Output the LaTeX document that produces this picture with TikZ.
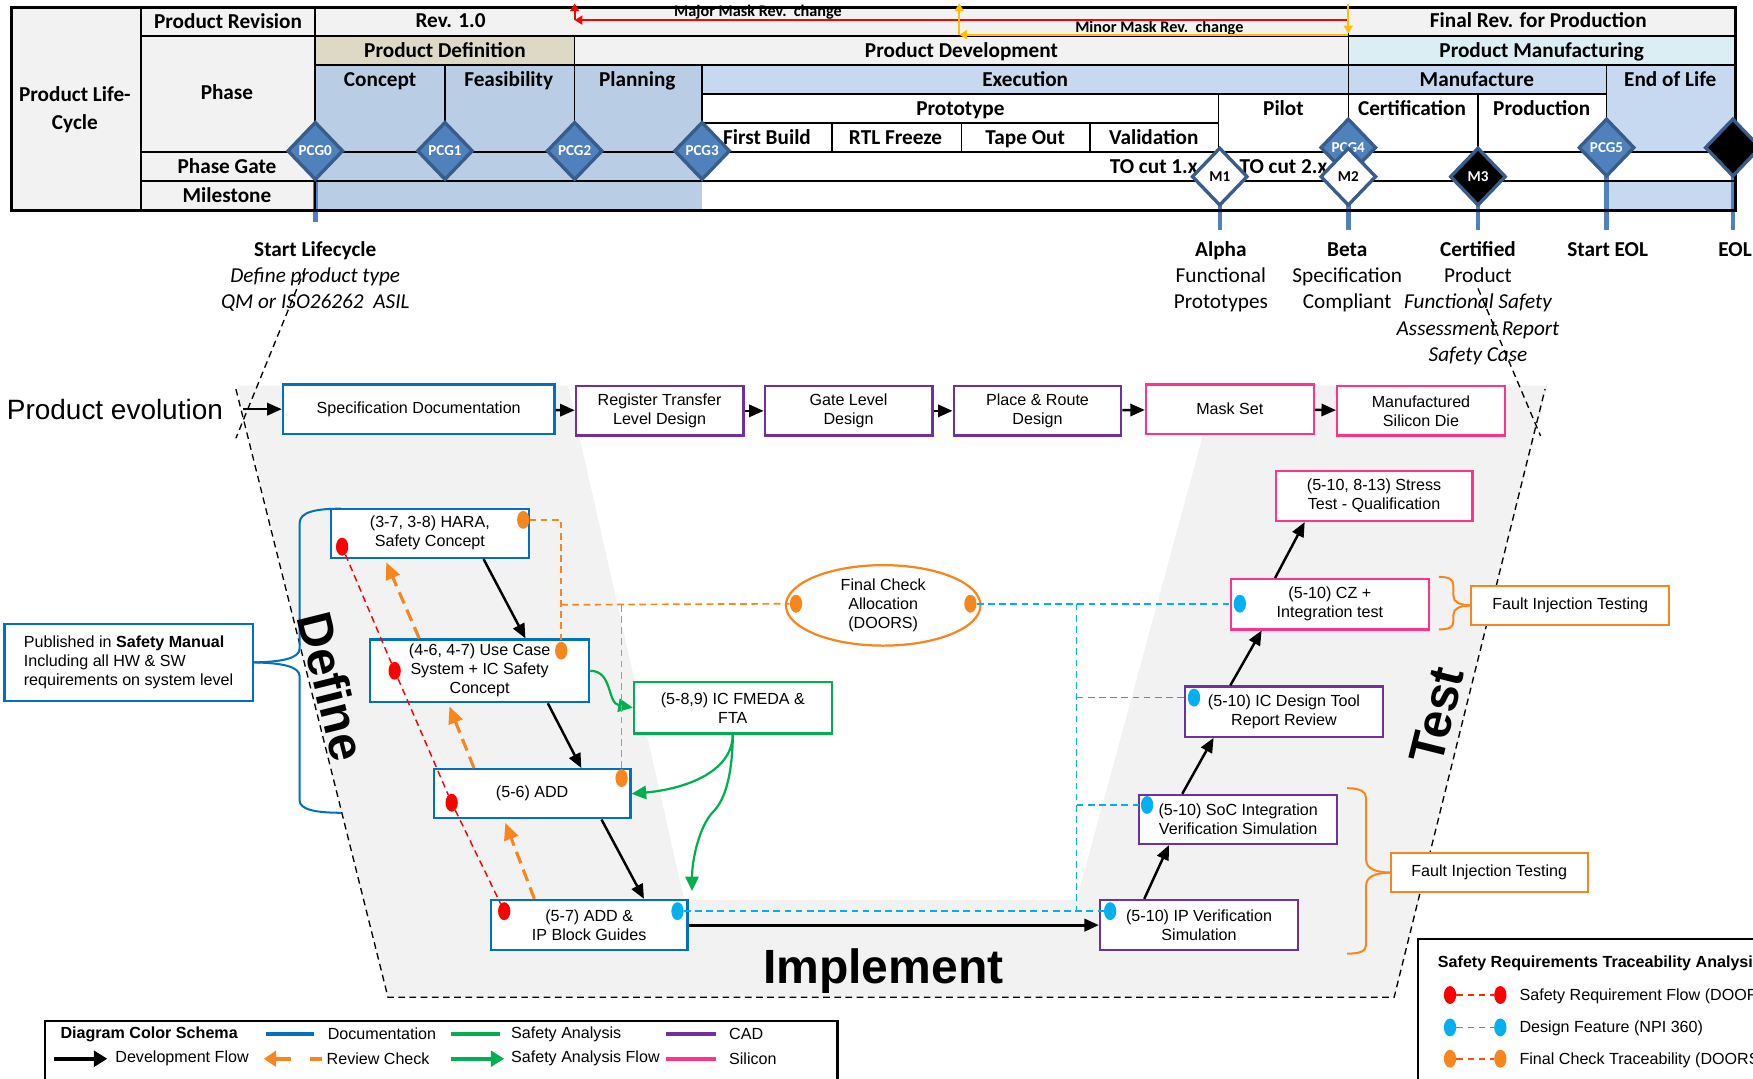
\documentclass[tikz,border=0pt]{standalone}
\usepackage{fontspec}
\setmainfont{Liberation Sans}
\newfontfamily\calibri{Carlito}
\usetikzlibrary{shapes.geometric,arrows.meta,calc}
\newcommand\fsz[2]{\fontsize{#1}{#2}\selectfont}

\definecolor{docblue}{RGB}{0,112,192}
\definecolor{cadpurple}{RGB}{112,48,160}
\definecolor{sipink}{RGB}{255,51,140}
\definecolor{safegreen}{RGB}{0,176,80}
\definecolor{chkorange}{RGB}{247,134,30}
\definecolor{featblue}{RGB}{0,176,240}
\definecolor{cellgray}{RGB}{242,242,242}
\definecolor{cellbeige}{RGB}{221,217,196}
\definecolor{cellblue}{RGB}{185,205,229}
\definecolor{celllight}{RGB}{198,217,241}
\definecolor{cellcyan}{RGB}{218,238,243}
\definecolor{gatefill}{RGB}{79,129,189}
\definecolor{gateedge}{RGB}{56,93,138}
\definecolor{revyellow}{RGB}{255,192,0}
\definecolor{vgray}{RGB}{242,242,242}

\begin{document}
\begin{tikzpicture}[x=1pt,y=-1pt,
  every node/.style={inner sep=0pt},
  hdr/.style={font=\calibri\bfseries\fsz{19}{23}, anchor=base},
  hdrsmall/.style={font=\calibri\bfseries\fsz{14.5}{17}, anchor=base},
  lbl/.style={font=\calibri\fsz{19}{23}, anchor=base},
  lblb/.style={font=\calibri\bfseries\fsz{19}{23}, anchor=base},
  lbli/.style={font=\calibri\itshape\fsz{19}{23}, anchor=base},
  grid/.style={line width=1.4pt},
  gate/.style={diamond, draw=gateedge, line width=3pt, fill=gatefill, minimum width=50, minimum height=52,
    text=white, font=\calibri\bfseries\fsz{13.5}{15}},
  gatebar/.style={gatefill, line width=4pt},
  box/.style={draw, line width=2pt, fill=white, align=center, font=\fsz{14.4}{17}},
  doc/.style={box, draw=docblue},
  cad/.style={box, draw=cadpurple},
  sil/.style={box, draw=sipink},
  safe/.style={box, draw=safegreen},
  fault/.style={box, draw=chkorange, line width=1.8pt},
  devflow/.style={line width=2.2pt, -{Triangle[length=13,width=11]}},
  review/.style={chkorange, line width=2.8pt, dash pattern=on 11pt off 6pt, -{Triangle[length=15,width=13]}},
  reqdash/.style={red, line width=1.3pt, dash pattern=on 6pt off 4pt},
  chkdash/.style={chkorange, line width=1.5pt, dash pattern=on 6pt off 4pt},
  featdash/.style={featblue, line width=1.5pt, dash pattern=on 6pt off 4pt},
  dot/.style={ellipse, minimum width=11, minimum height=16},
  safeflow/.style={safegreen, line width=2pt, -{Triangle[length=13,width=12]}},
  vline/.style={black, line width=1.2pt, dash pattern=on 6pt off 4pt},
  legtxt/.style={anchor=west, font=\fsz{14.4}{17}},
  bigword/.style={font=\bfseries\fsz{44}{44}}
]
\useasboundingbox (0,0) rectangle (1568,965);
\clip (0,0) rectangle (1568,965);

% ---------- life-cycle table: cell fills ----------
\fill[cellgray] (10,7) rectangle (282,188);
\fill[cellgray] (282,7) rectangle (1552,32);
\fill[cellbeige] (282,32) rectangle (514,58);
\fill[cellgray] (514,32) rectangle (1206,58);
\fill[cellcyan] (1206,32) rectangle (1552,58);
\fill[cellblue] (282,58) rectangle (628,188);
\fill[celllight] (628,58) rectangle (1437,84);
\fill[celllight] (1437,58) rectangle (1552,136);
\fill[celllight] (1437,162) rectangle (1552,188);

% milestone bars below the gates
\draw[gatebar] (282,150) -- (282,199);
\draw[gatebar] (1091,170) -- (1091,206);
\draw[gatebar] (1206,170) -- (1206,206);
\draw[gatebar] (1322,170) -- (1322,206);
\draw[gatebar] (1437,150) -- (1437,206);
\draw[gatebar] (1550,150) -- (1550,206);

% ---------- grid lines ----------
\draw[grid] (126,7) -- (126,188);
\draw[grid] (282,7) -- (282,188);
\draw[grid] (126,32) -- (1552,32);
\draw[grid] (282,58) -- (1552,58);
\draw[grid] (628,84) -- (1437,84);
\draw[grid] (628,110) -- (1090,110);
\draw[grid] (126,136) -- (1552,136);
\draw[grid] (126,162) -- (1552,162);
\draw[grid] (398,58) -- (398,136);
\draw[grid] (514,32) -- (514,136);
\draw[grid] (628,58) -- (628,136);
\draw[grid] (744,110) -- (744,136);
\draw[grid] (860,110) -- (860,136);
\draw[grid] (975,110) -- (975,136);
\draw[grid] (1090,84) -- (1090,136);
\draw[grid] (1206,7) -- (1206,136);
\draw[grid] (1322,84) -- (1322,136);
\draw[grid] (1437,58) -- (1437,136);
\draw[line width=2.5pt] (10,7) rectangle (1552,188);

% ---------- table texts ----------
\node[hdr] (tLife) at (67,91) {Product Life-};
\node[hdr] (tCycle) at (67,116) {Cycle};
\node[hdr] (tRevL) at (204,25.5) {Product Revision};
\node[hdr] (tPhase) at (203,89) {Phase};
\node[hdr] (tGate) at (203,155) {Phase Gate};
\node[hdr] (tMile) at (203,181) {Milestone};
\node[hdr] (tRev) at (403,25) {Rev. 1.0};
\node[hdr] (tFinal) at (1376,25) {Final Rev. for Production};
\node[hdr] (tDef) at (398,51) {Product Definition};
\node[hdr] (tDev) at (860,51) {Product Development};
\node[hdr] (tMan) at (1379,51) {Product Manufacturing};
\node[hdr] (tConcept) at (340,77) {Concept};
\node[hdr] (tFeas) at (455,77) {Feasibility};
\node[hdr] (tPlan) at (570,77) {Planning};
\node[hdr] (tExec) at (917,77) {Execution};
\node[hdr] (tManuf) at (1321,77) {Manufacture};
\node[hdr] (tEnd) at (1494,77) {End of Life};
\node[hdr] (tProto) at (859,103) {Prototype};
\node[hdr] (tPilot) at (1148,103) {Pilot};
\node[hdr] (tCert) at (1263,103) {Certification};
\node[hdr] (tProd) at (1379,103) {Production};
\node[hdr] (tFirst) at (686,129) {First Build};
\node[hdr] (tRTL) at (801,129) {RTL Freeze};
\node[hdr] (tTape) at (917,129) {Tape Out};
\node[hdr] (tVal) at (1032,129) {Validation};
\node[hdr] (tTO1) at (1032,155) {TO cut 1.x};
\node[hdr] (tTO2) at (1148,155) {TO cut 2.x};
\node[hdrsmall] (tMajor) at (678,15) {Major Mask Rev.\ \ change};
\node[hdrsmall] (tMinor) at (1037,29.5) {Minor Mask Rev.\ \ change};

% mask revision arrows
\coordinate (majR) at (1206,18);
\coordinate (majL) at (514,18);
\coordinate (majUp) at (514,3);
\coordinate (minR) at (1206,31);
\coordinate (minL) at (858,31);
\coordinate (minUp) at (858,3);
\coordinate (minTop) at (1206,4);
\coordinate (minEnd) at (1206,30);
\draw[red, line width=1.8pt, -{Triangle[length=7,width=8]}] (majR) -- (majL);
\draw[red, line width=1.8pt, -{Triangle[length=7,width=8]}] (majL) -- (majUp);
\draw[revyellow, line width=1.8pt, -{Triangle[length=7,width=8]}] (minR) -- (minL);
\draw[revyellow, line width=1.8pt, -{Triangle[length=7,width=8]}] (minL) -- (minUp);
\draw[revyellow, line width=1.8pt, -{Triangle[length=7,width=8]}] (minTop) -- (minEnd);

% ---------- gates and milestones ----------
\node[gate] (pcg0) at (282,135) {PCG0};
\node[gate] (pcg1) at (398,135) {PCG1};
\node[gate] (pcg2) at (514,135) {PCG2};
\node[gate] (pcg3) at (628,135) {PCG3};
\node[gate] (pcg4) at (1206,132) {PCG4};
\node[gate] (pcg5) at (1437,132) {PCG5};
\node[gate, fill=black] (eolg) at (1550,132) {};
\node[gate, fill=white, text=black] (m1) at (1091,158) {M1};
\node[gate, fill=white, text=black] (m2) at (1206,158) {M2};
\node[gate, fill=black] (m3) at (1322,158) {M3};

% ---------- milestone descriptions ----------
\node[lblb] (dStart) at (282,229) {Start Lifecycle};
\node[lbli] (dStart2) at (282,253) {Define product type};
\node[lbli] (dStart3) at (282,276) {QM or ISO26262 \ ASIL};
\node[lblb] (dAlpha) at (1092,229) {Alpha};
\node[lbl] (dAlpha2) at (1092,253) {Functional};
\node[lbl] (dAlpha3) at (1092,276) {Prototypes};
\node[lblb] (dBeta) at (1205,229) {Beta};
\node[lbl] (dBeta2) at (1205,253) {Specification};
\node[lbl] (dBeta3) at (1205,276) {Compliant};
\node[lblb] (dCert) at (1322,229) {Certified};
\node[lbl] (dCert2) at (1322,253) {Product};
\node[lbli] (dCert3) at (1322,276) {Functional Safety};
\node[lbli] (dCert4) at (1322,300) {Assessment Report};
\node[lbli] (dCert5) at (1322,323) {Safety Case};
\node[lblb] (dSEOL) at (1438,229) {Start EOL};
\node[lblb] (dEOL) at (1552,229) {EOL};

% ---------- V-model background ----------
\fill[vgray, even odd rule] (212,345) -- (1384,345) -- (1247,892) -- (347,892) -- cycle
  (508,345) -- (612,805) -- (963,805) -- (1088,345) -- cycle;
\draw[vline] (273,240) -- (211,392);
\draw[vline] (211,348) -- (347,892) -- (1247,892) -- (1382,348);
\draw[vline] (1322,258) -- (1378,390);

% ---------- product evolution row ----------
\node[anchor=west, font=\fsz{25}{28}] (pevo) at (6,366) {Product evolution};
\coordinate (pstart) at (217,366);
\node[doc, minimum width=243, minimum height=44] (spec) at (374.5,366) {\raisebox{-1.5pt}{Specification Documentation}};
\node[cad, minimum width=150, minimum height=44] (rtl) at (590,367.5) {Register Transfer\\Level Design};
\node[cad, minimum width=150, minimum height=44] (gld) at (759,367.5) {Gate Level\\Design};
\node[cad, minimum width=150, minimum height=44] (pnr) at (928,367.5) {Place \& Route\\Design};
\node[sil, minimum width=150, minimum height=44] (mask) at (1100,366) {\raisebox{-1.5pt}{Mask Set}};
\node[sil, minimum width=150, minimum height=44] (die) at (1271,367.5) {Manufactured\\Silicon Die};
\draw[devflow] (pstart) -- (spec);
\draw[devflow] (spec) -- (rtl);
\draw[devflow] (rtl) -- (gld);
\draw[devflow] (gld) -- (pnr);
\draw[devflow] (pnr) -- (mask);
\draw[devflow] (mask) -- (die);

% ---------- define side ----------
\node[doc, minimum width=177, minimum height=44] (hara) at (384.5,477) {(3-7, 3-8) HARA,\\Safety Concept};
\node[doc, minimum width=196, minimum height=56] (usec) at (429,600) {(4-6, 4-7) Use Case\\System + IC Safety\\Concept};
\node[doc, minimum width=176, minimum height=44] (add) at (476,710) {(5-6) ADD};
\node[doc, minimum width=176, minimum height=45] (addip) at (527,827.5) {(5-7) ADD \&\\IP Block Guides};
\node[safe, minimum width=177, minimum height=46] (fmeda) at (655.5,633) {(5-8,9) IC FMEDA \&\\FTA};
\node[doc, align=left, minimum width=222, minimum height=69] (pub) at (115,592.5)
  {Published in \textbf{Safety Manual}\\Including all HW \& SW\\requirements on system level};
\node[draw=chkorange, line width=2pt, ellipse, fill=white, minimum width=174, minimum height=72,
  align=center, font=\fsz{14.4}{17}] (chk) at (790,541.5) {Final Check\\Allocation\\(DOORS)};

% brace from the safety manual box
\draw[docblue, line width=1.8pt] (pub.east) .. controls (252,592) and (268,589) .. (268,580)
  -- (268,468) .. controls (268,458) and (282,455) .. (305,455);
\draw[docblue, line width=1.8pt] (pub.east) .. controls (252,593) and (268,596) .. (268,605)
  -- (268,716) .. controls (268,724) and (282,727) .. (305,727);

% ---------- test side ----------
\node[sil, minimum width=176, minimum height=45] (stress) at (1229,443.5) {(5-10, 8-13) Stress\\Test - Qualification};
\node[sil, minimum width=177, minimum height=45] (cz) at (1189.5,540.5) {(5-10) CZ +\\Integration test};
\node[cad, minimum width=177, minimum height=45] (icd) at (1148.5,636.5) {(5-10) IC Design Tool\\Report Review};
\node[cad, minimum width=177, minimum height=44] (soc) at (1107.5,733) {(5-10) SoC Integration\\Verification Simulation};
\node[cad, minimum width=177, minimum height=45] (ipv) at (1072.5,827.5) {(5-10) IP Verification\\Simulation};
\node[fault, minimum width=177, minimum height=35] (fit1) at (1404.5,541.5) {Fault Injection Testing};
\node[fault, minimum width=176, minimum height=35] (fit2) at (1332,780.5) {Fault Injection Testing};
\draw[chkorange, line width=1.8pt] (fit1.west) .. controls (1306,541) and (1300,539) .. (1300,533)
  -- (1300,524) .. controls (1300,518) and (1296,516) .. (1287,516);
\draw[chkorange, line width=1.8pt] (fit1.west) .. controls (1306,542) and (1300,544) .. (1300,550)
  -- (1300,556) .. controls (1300,561) and (1296,563) .. (1287,563);
\draw[chkorange, line width=1.8pt] (fit2.west) .. controls (1230,780) and (1222,777) .. (1222,769)
  -- (1222,714) .. controls (1222,708) and (1216,705) .. (1205,705);
\draw[chkorange, line width=1.8pt] (fit2.west) .. controls (1230,781) and (1222,784) .. (1222,792)
  -- (1222,845) .. controls (1222,851) and (1216,853) .. (1205,853);

% ---------- V labels ----------
\node[bigword, rotate=-76] (wDefine) at (297,614) {Define};
\node[bigword, rotate=76] (wTest) at (1285,640) {Test};
\node[font=\bfseries\fsz{43}{43}] (wImpl) at (790,869) {Implement};

% ---------- development flow ----------
\draw[devflow] ([xshift=48]hara.south) -- ([xshift=41]usec.north);
\draw[devflow] ([xshift=61]usec.south) -- ([xshift=44]add.north);
\draw[devflow] ([xshift=62]add.south) -- ([xshift=49]addip.north);
\draw[devflow, line width=2.6pt] (addip.east) -- (ipv.west);
\draw[devflow] ([xshift=-49]ipv.north) -- ([xshift=-62]soc.south);
\draw[devflow] ([xshift=-50]soc.north) -- ([xshift=-63]icd.south);
\draw[devflow] ([xshift=-48]icd.north) -- ([xshift=-61]cz.south);
\draw[devflow] ([xshift=-49]cz.north) -- ([xshift=-62]stress.south);

% ---------- review checks ----------
\draw[review] ([xshift=-49]addip.north) -- ([xshift=-24,yshift=-3]add.south);
\draw[review] ([xshift=-52]add.north) -- ([xshift=-27,yshift=-3]usec.south);
\draw[review] ([xshift=-54]usec.north) -- ([xshift=-39,yshift=-3]hara.south);

% ---------- safety analysis flow ----------
\coordinate (gtip) at (619,797);
\draw[safeflow] (usec.east) .. controls (548,600) and (543,629) .. (fmeda.west);
\draw[safeflow] (fmeda.south) .. controls (655,692) and (610,706) .. (add.east);
\draw[safeflow] (fmeda.south) .. controls (655,700) and (646,718) .. (638,726)
  .. controls (626,738) and (619,768) .. (gtip);

% ---------- traceability markers ----------
\node[dot, fill=red] (rHara) at (306,489) {};
\node[dot, fill=red] (rUse) at (353,600) {};
\node[dot, fill=red] (rAdd) at (404,718) {};
\node[dot, fill=red] (rAddip) at (451,815) {};
\node[dot, fill=chkorange] (oHara) at (468,465) {};
\node[dot, fill=chkorange] (oUse) at (502,582) {};
\node[dot, fill=chkorange] (oAdd) at (556,696) {};
\node[dot, fill=chkorange] (oChkL) at (712,540) {};
\node[dot, fill=chkorange] (oChkR) at (868,540) {};
\node[dot, fill=featblue] (bAddip) at (606,815) {};
\node[dot, fill=featblue] (bIpv) at (993,815) {};
\node[dot, fill=featblue] (bSoc) at (1026,720) {};
\node[dot, fill=featblue] (bIcd) at (1068,624) {};
\node[dot, fill=featblue] (bCz) at (1109,540) {};
\coordinate (oJoin) at (502,541);
\coordinate (bJoin) at (963,540);

\draw[reqdash] (rHara) -- (rUse) -- (rAdd) -- (rAddip);
\draw[chkdash] (oHara) -| (oUse);
\draw[chkdash] (oJoin) -- (oChkL);
\draw[chkdash] (oAdd |- oJoin) -- (oAdd);
\draw[featdash] (oChkR) -- (bCz);
\draw[featdash] (bJoin) -- (bJoin |- bAddip);
\draw[featdash] (bAddip) -- (bIpv);
\draw[featdash] (bJoin |- bSoc) -- (bSoc);
\draw[featdash] (bJoin |- bIcd) -- (bIcd);

% ---------- colour legend ----------
\draw[line width=2pt] (40,913) rectangle (749,990);
\node[legtxt, font=\bfseries\fsz{14.4}{17}] (lgTitle) at (54,925) {Diagram Color Schema};
\draw[docblue, line width=4pt] (238,925) -- (281,925);
\node[legtxt] (lgDoc) at (293,925) {Documentation};
\draw[safegreen, line width=4pt] (403,925) -- (447,925);
\node[legtxt] (lgSafe) at (457,925) {Safety Analysis};
\draw[cadpurple, line width=4pt] (596,925) -- (640,925);
\node[legtxt] (lgCad) at (652,925) {CAD};
\draw[line width=4pt, -{Triangle[length=12,width=14]}] (48,947) -- (96,947);
\node[legtxt] (lgDev) at (103,947) {Development Flow};
\draw[chkorange, line width=4pt, -{Triangle[length=11,width=14]}] (260,947) -- (236,947);
\draw[chkorange, line width=4pt] (277,947) -- (288,947);
\node[legtxt] (lgRev) at (292,947) {Review Check};
\draw[safegreen, line width=4pt, -{Triangle[length=12,width=14]}] (403,947) -- (451,947);
\node[legtxt] (lgSafeF) at (457,947) {Safety Analysis Flow};
\draw[sipink, line width=4pt] (596,947) -- (640,947);
\node[legtxt] (lgSil) at (652,947) {Silicon};

% ---------- traceability legend ----------
\draw[line width=2pt] (1268,840) rectangle (1620,1000);
\node[legtxt, font=\bfseries\fsz{14.4}{17}] (ltTitle) at (1286,862) {Safety Requirements Traceability Analysis};
\node[dot, fill=red] (ltR1) at (1297,890) {};
\node[dot, fill=red] (ltR2) at (1342,890) {};
\draw[red!70!chkorange, line width=1.5pt, dash pattern=on 6pt off 4pt] (ltR1) -- (ltR2);
\node[legtxt] (ltR) at (1359,891) {Safety Requirement Flow (DOORS)};
\node[dot, fill=featblue] (ltB1) at (1297,919) {};
\node[dot, fill=featblue] (ltB2) at (1342,919) {};
\draw[featdash] (ltB1) -- (ltB2);
\node[legtxt] (ltB) at (1359,920) {Design Feature (NPI 360)};
\node[dot, fill=chkorange] (ltO1) at (1297,947) {};
\node[dot, fill=chkorange] (ltO2) at (1342,947) {};
\draw[red!40!chkorange, line width=1.5pt, dash pattern=on 6pt off 4pt] (ltO1) -- (ltO2);
\node[legtxt] (ltO) at (1359,948) {Final Check Traceability (DOORS)};
\end{tikzpicture}
\end{document}
